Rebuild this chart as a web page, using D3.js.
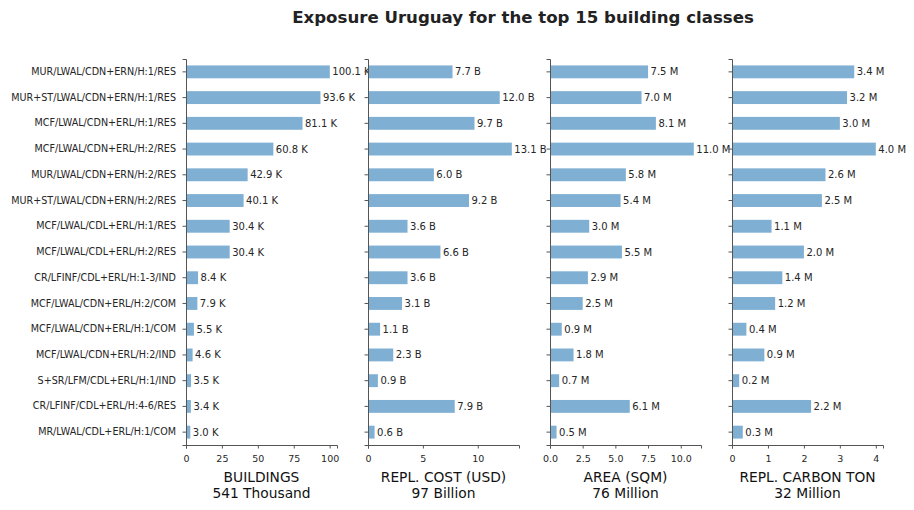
<!DOCTYPE html>
<html>
<head>
<meta charset="utf-8">
<script src="https://cdn.jsdelivr.net/npm/d3@7"></script>
<style>
  body { margin: 0; background: #fff; }
  text { font-family: "DejaVu Sans", sans-serif; }
</style>
</head>
<body>
<svg id="chart" width="914" height="510"></svg>
<script>
// top 15 building classes
const categories = [
  'MUR/LWAL/CDN+ERN/H:1/RES',
  'MUR+ST/LWAL/CDN+ERN/H:1/RES',
  'MCF/LWAL/CDN+ERL/H:1/RES',
  'MCF/LWAL/CDN+ERL/H:2/RES',
  'MUR/LWAL/CDN+ERN/H:2/RES',
  'MUR+ST/LWAL/CDN+ERN/H:2/RES',
  'MCF/LWAL/CDL+ERL/H:1/RES',
  'MCF/LWAL/CDL+ERL/H:2/RES',
  'CR/LFINF/CDL+ERL/H:1-3/IND',
  'MCF/LWAL/CDN+ERL/H:2/COM',
  'MCF/LWAL/CDN+ERL/H:1/COM',
  'MCF/LWAL/CDN+ERL/H:2/IND',
  'S+SR/LFM/CDL+ERL/H:1/IND',
  'CR/LFINF/CDL+ERL/H:4-6/RES',
  'MR/LWAL/CDL+ERL/H:1/COM'
]

const buildings = [100.1, 93.6, 81.1, 60.8, 42.9, 40.1, 30.4, 30.4, 8.4, 7.9, 5.5, 4.6, 3.5, 3.4, 3.0]
const replCost = [7.7, 12.0, 9.7, 13.1, 6.0, 9.2, 3.6, 6.6, 3.6, 3.1, 1.1, 2.3, 0.9, 7.9, 0.6]
const area = [7.5, 7.0, 8.1, 11.0, 5.8, 5.4, 3.0, 5.5, 2.9, 2.5, 0.9, 1.8, 0.7, 6.1, 0.5]
const carbon = [3.4, 3.2, 3.0, 4.0, 2.6, 2.5, 1.1, 2.0, 1.4, 1.2, 0.4, 0.9, 0.2, 2.2, 0.3]

const panelTitles = ['BUILDINGS', 'REPL. COST (USD)', 'AREA (SQM)', 'REPL. CARBON TON']
const panelTotals = ['541 Thousand', '97 Billion', '76 Million', '32 Million']
const unitSuffix = ['K', 'B', 'M', 'M']
const tickValues = [
  [0, 25, 50, 75, 100],
  [0, 5, 10],
  [0, 2.5, 5, 7.5, 10],
  [0, 1, 2, 3, 4]
]
const tickFormats = ['d', 'd', '.1f', 'd']
const series = [buildings, replCost, area, carbon]

const svg = d3.select('#chart')
const barColor = '#7fafd3'
const axisColor = '#555'
const textColor = '#262626'

const panelLeft = 186
const panelWidth = 151
const panelStep = 182
const plotTop = 59
const plotBottom = 445

const y = d3.scaleBand()
  .domain(categories)
  .range([plotTop, plotBottom])
  .paddingInner(0.5)
  .paddingOuter(0.25)

// title
svg.append('text')
  .attr('x', 523)
  .attr('y', 22.5)
  .attr('text-anchor', 'middle')
  .style('font-size', '16.6px')
  .style('font-weight', 'bold')
  .style('fill', '#222')
  .text('Exposure Uruguay for the top 15 building classes')

series.forEach((values, p) => {
  const x0 = panelLeft + p * panelStep
  const g = svg.append('g').attr('transform', `translate(${x0},0)`)

  const x = d3.scaleLinear()
    .domain([0, d3.max(values) * 1.05])
    .range([0, panelWidth])

  // bars
  g.selectAll('.bar')
    .data(values)
    .enter()
    .append('rect')
    .attr('class', 'bar')
    .attr('x', 0)
    .attr('y', (d, i) => y(categories[i]))
    .attr('width', d => x(d))
    .attr('height', y.bandwidth())
    .attr('fill', barColor)

  // value labels at bar ends
  g.selectAll('.bar-label')
    .data(values)
    .enter()
    .append('text')
    .attr('class', 'bar-label')
    .attr('x', d => x(d) + 2.5)
    .attr('y', (d, i) => y(categories[i]) + y.bandwidth() / 2)
    .attr('dy', '0.35em')
    .style('font-size', '10px')
    .style('fill', textColor)
    .text(d => `${d.toFixed(1)} ${unitSuffix[p]}`)

  // x axis
  const xAxis = g.append('g')
    .attr('transform', `translate(0,${plotBottom})`)
    .call(d3.axisBottom(x)
      .tickValues(tickValues[p])
      .tickFormat(d3.format(tickFormats[p]))
      .tickSizeOuter(0)
      .tickSize(3.5)
      .tickPadding(5))
  xAxis.select('.domain').attr('stroke', axisColor)
  xAxis.selectAll('.tick line').attr('stroke', axisColor)
  xAxis.selectAll('.tick text')
    .attr('dy', '0.9em')
    .style('font-family', '"DejaVu Sans", sans-serif')
    .style('font-size', '9.5px')
    .style('fill', textColor)

  // y axis (labels only on first panel)
  const yAxis = g.append('g')
    .call(d3.axisLeft(y)
      .tickSizeOuter(0)
      .tickSize(3.5)
      .tickPadding(6.5)
      .tickFormat(p === 0 ? d => d : () => ''))
  yAxis.select('.domain').attr('stroke', axisColor)
  yAxis.selectAll('.tick line').attr('stroke', axisColor)
  yAxis.selectAll('.tick text')
    .style('font-family', '"DejaVu Sans", sans-serif')
    .style('font-size', '9.6px')
    .style('fill', textColor)

  // axis label + total
  const label = g.append('text')
    .attr('x', panelWidth / 2)
    .attr('y', 482)
    .attr('text-anchor', 'middle')
    .style('font-size', '13.8px')
    .style('fill', '#111')
  label.append('tspan').attr('x', panelWidth / 2).text(panelTitles[p])
  label.append('tspan').attr('x', panelWidth / 2).attr('dy', 16).text(panelTotals[p])
})
</script>
</body>
</html>
